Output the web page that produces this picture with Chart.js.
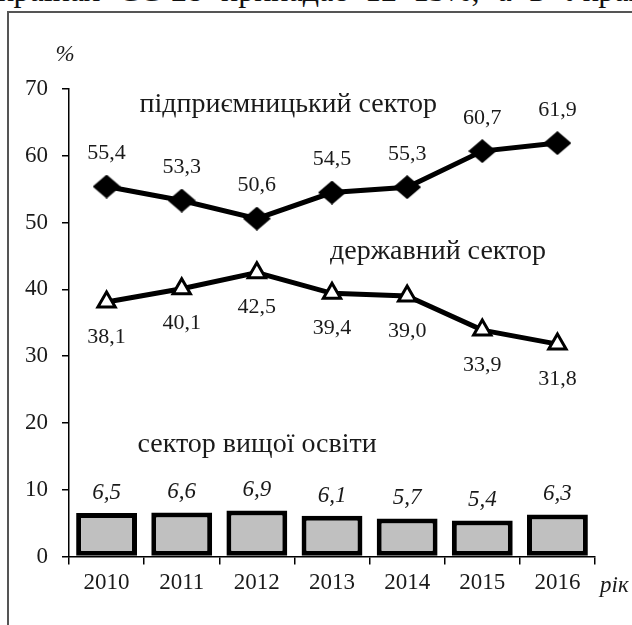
<!DOCTYPE html>
<html>
<head>
<meta charset="utf-8">
<script src="https://cdn.jsdelivr.net/npm/chart.js@4.4.1/dist/chart.umd.min.js"></script>
<style>
  html, body { margin:0; padding:0; background:#fff; }
  body { width:632px; height:625px; position:relative; overflow:hidden; }
  #toptext { position:absolute; left:-2px; top:-26px; white-space:nowrap; word-spacing:10px;
    font-family:"Liberation Serif", serif; font-size:32px; line-height:32px; color:#111; }
  #frame { position:absolute; left:7px; top:11px; width:800px; height:800px;
    border-left:2px solid #555; border-top:2px solid #555; }
  #c { position:absolute; left:0; top:0; }
</style>
</head>
<body>
<div id="toptext">країнах ЄС-28 припадає 12–13%, а в Україні</div>
<div id="frame"></div>
<canvas id="c" width="632" height="625"></canvas>
<script>
const years = ['2010','2011','2012','2013','2014','2015','2016'];
const business = [55.4, 53.3, 50.6, 54.5, 55.3, 60.7, 61.9];
const government = [38.1, 40.1, 42.5, 39.4, 39.0, 33.9, 31.8];
const higherEd = [6.5, 6.6, 6.9, 6.1, 5.7, 5.4, 6.3];
const seriesNames = ['підприємницький сектор', 'державний сектор', 'сектор вищої освіти'];
const yTicks = [0, 10, 20, 30, 40, 50, 60, 70];

const SERIF = '"Liberation Serif", "Times New Roman", serif';

// flattened diamond marker
const diamond = document.createElement('canvas');
diamond.width = 28; diamond.height = 24;
(function(){
  const g = diamond.getContext('2d');
  g.fillStyle = '#000';
  g.beginPath();
  g.moveTo(14, 0); g.lineTo(28, 12); g.lineTo(14, 24); g.lineTo(0, 12);
  g.closePath(); g.fill();
})();

const fmt = v => v.toFixed(1).replace('.', ',');

const labelPlugin = {
  id: 'labels',
  afterDatasetsDraw(chart) {
    const ctx = chart.ctx;
    const x = chart.scales.x, y = chart.scales.y;
    ctx.save();
    ctx.fillStyle = '#1a1a1a';
    ctx.textAlign = 'center';
    ctx.textBaseline = 'middle';
    // bars
    const mb = chart.getDatasetMeta(0);
    ctx.font = 'italic 23px ' + SERIF;
    mb.data.forEach((el, i) => ctx.fillText(fmt(higherEd[i]), el.x, el.y - 20));
    // lines
    ctx.font = '22px ' + SERIF;
    chart.getDatasetMeta(1).data.forEach((el, i) => ctx.fillText(fmt(business[i]), el.x, el.y - 33));
    chart.getDatasetMeta(2).data.forEach((el, i) => ctx.fillText(fmt(government[i]), el.x, el.y + 35));
    // series names
    ctx.font = '28px ' + SERIF;
    ctx.textAlign = 'left';
    ctx.fillText(seriesNames[0], x.getPixelForValue(0) + 33, y.getPixelForValue(67.6));
    ctx.fillText(seriesNames[1], x.getPixelForValue(3) - 2, y.getPixelForValue(45.6));
    ctx.fillText(seriesNames[2], x.getPixelForValue(0) + 31, y.getPixelForValue(16.7));
    // axis titles
    ctx.font = 'italic 23px ' + SERIF;
    ctx.textAlign = 'center';
    ctx.fillText('%', x.left - 4, y.getPixelForValue(70) - 34);
    ctx.textAlign = 'left';
    ctx.fillText('рік', x.right + 5, y.bottom + 29);
    ctx.restore();
  }
};

new Chart(document.getElementById('c'), {
  type: 'bar',
  data: {
    labels: years,
    datasets: [
      {
        type: 'bar', label: seriesNames[2], data: higherEd,
        backgroundColor: '#c0c0c0', borderColor: '#000', borderWidth: 5,
        borderSkipped: false, barPercentage: 0.81, categoryPercentage: 1, order: 3
      },
      {
        type: 'line', label: seriesNames[0], data: business,
        borderColor: '#000', borderWidth: 5, pointStyle: diamond,
        pointRadius: 12, pointHoverRadius: 12, fill: false, tension: 0, order: 1
      },
      {
        type: 'line', label: seriesNames[1], data: government,
        borderColor: '#000', borderWidth: 5, pointStyle: 'triangle',
        pointRadius: 10, pointHoverRadius: 10, pointBackgroundColor: '#fff',
        pointBorderColor: '#000', pointBorderWidth: 3, fill: false, tension: 0, order: 2
      }
    ]
  },
  options: {
    responsive: false,
    animation: false,
    events: [],
    layout: { padding: { left: 0, top: 89, right: 37, bottom: 0 } },
    plugins: { legend: { display: false }, tooltip: { enabled: false } },
    scales: {
      x: {
        offset: true,
        grid: { offset: true, drawOnChartArea: false, drawTicks: true, tickLength: 8, color: '#000', lineWidth: 1.5 },
        border: { display: true, color: '#000', width: 1.5 },
        ticks: { color: '#1a1a1a', font: { family: SERIF, size: 23 }, padding: 5, maxRotation: 0 },
        afterFit: s => { s.height = 68.5; }
      },
      y: {
        min: 0, max: 70,
        afterBuildTicks: s => { s.ticks = yTicks.map(v => ({ value: v })); },
        grid: { drawOnChartArea: false, drawTicks: true, tickLength: 7, color: '#000', lineWidth: 1.5 },
        border: { display: true, color: '#000', width: 1.5 },
        ticks: { color: '#1a1a1a', font: { family: SERIF, size: 23 }, padding: 14 },
        afterFit: s => { s.width = 69; }
      }
    }
  },
  plugins: [labelPlugin]
});
</script>
</body>
</html>
